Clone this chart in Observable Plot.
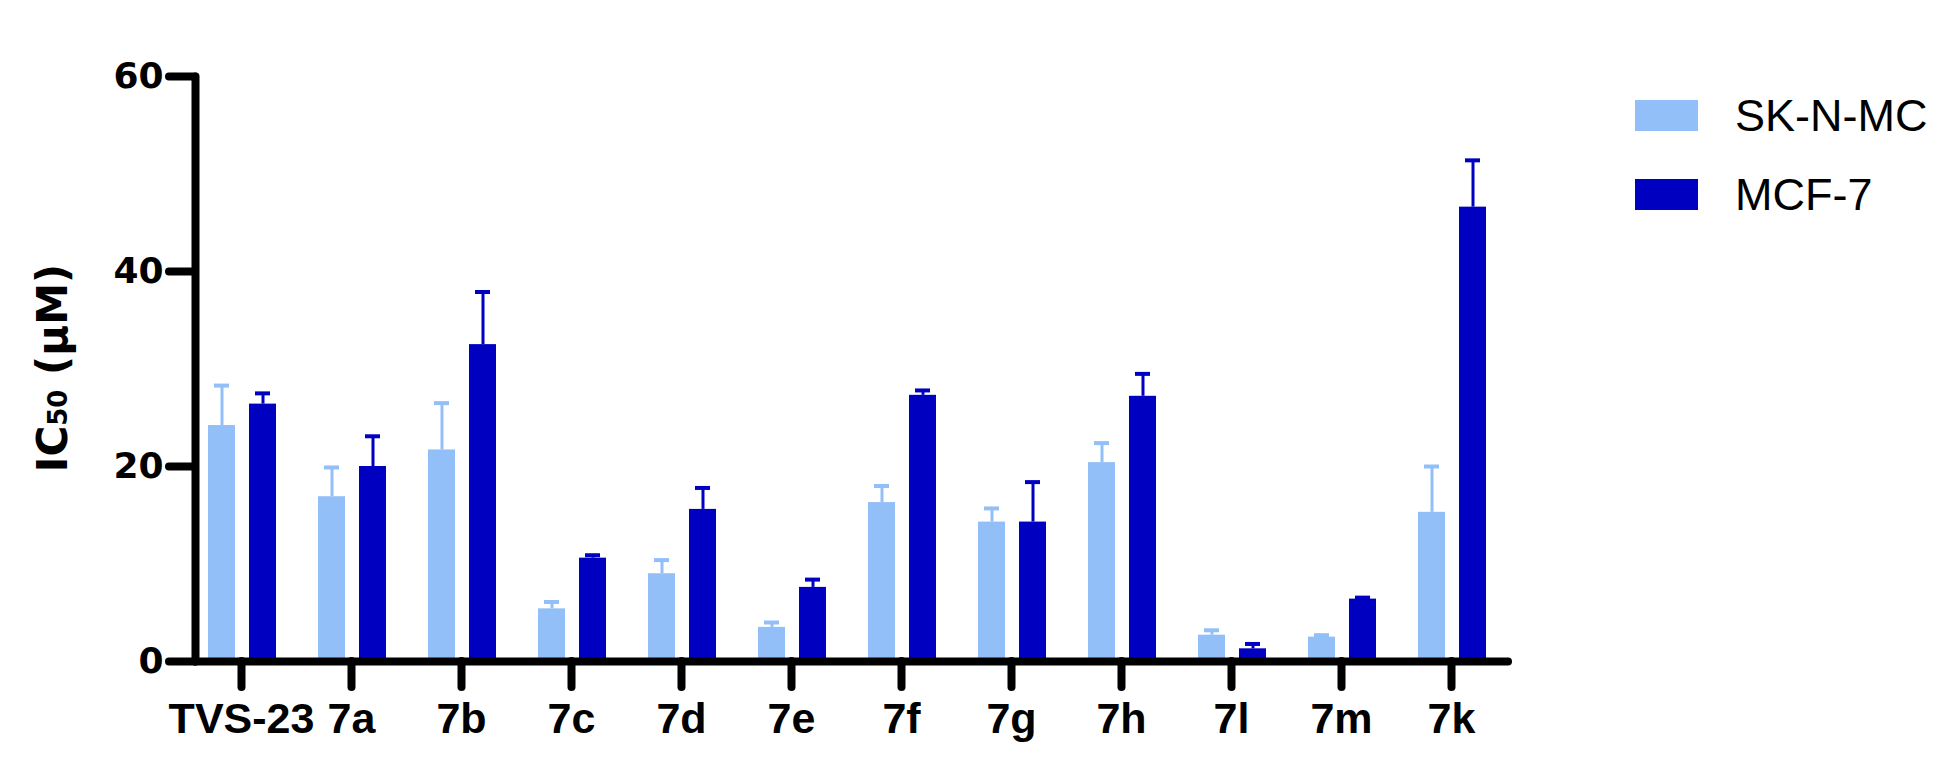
<!DOCTYPE html>
<html>
<head>
<meta charset="utf-8">
<script src="https://cdn.jsdelivr.net/npm/d3@7"></script>
<script src="https://cdn.jsdelivr.net/npm/@observablehq/plot@0.6"></script>
<style>
  body { margin: 0; background: #fff; }
  #wrap { position: relative; width: 1955px; height: 772px; background: #fff; }
  .legend { position: absolute; left: 1635px; top: 0; font-family: "Liberation Sans", Arial, sans-serif; font-size: 45px; color: #000; }
  .item { position: absolute; left: 0; display: flex; align-items: center; height: 31px; white-space: nowrap; }
  .sw { width: 63px; height: 31px; margin-right: 37px; flex: none; }
</style>
</head>
<body>
<div id="wrap"></div>
<script>
// ---- data ----
const compounds = ["TVS-23", "7a", "7b", "7c", "7d", "7e", "7f", "7g", "7h", "7l", "7m", "7k"];
const seriesNames = ["SK-N-MC", "MCF-7"];
const skMean = [24.2, 16.9, 21.7, 5.4, 9.0, 3.5, 16.3, 14.3, 20.4, 2.7, 2.5, 15.3];
const skErr  = [4.1, 3.0, 4.8, 0.7, 1.4, 0.5, 1.7, 1.4, 2.0, 0.5, 0.2, 4.7];
const mcfMean = [26.4, 20.0, 32.5, 10.6, 15.6, 7.6, 27.3, 14.3, 27.2, 1.3, 6.4, 46.6];
const mcfErr  = [1.1, 3.1, 5.4, 0.3, 2.2, 0.8, 0.5, 4.1, 2.3, 0.5, 0.15, 4.8];
const yTicks = [0, 20, 40, 60];
const colors = ["#92bff8", "#0000c0"];

const sk = compounds.map((c, i) => ({c, v: skMean[i], e: skErr[i]}));
const mcf = compounds.map((c, i) => ({c, v: mcfMean[i], e: mcfErr[i]}));

const svg = Plot.plot({
  width: 1955,
  height: 772,
  marginTop: 76,
  marginBottom: 111,
  marginLeft: 195,
  marginRight: 447,
  style: {background: "#fff", color: "#000"},
  x: {domain: compounds, range: [186, 1506], padding: 0},
  y: {domain: [0, 60]},
  marks: [
    Plot.barY(sk, {x: "c", y: "v", fill: colors[0], insetLeft: 22, insetRight: 61}),
    Plot.barY(mcf, {x: "c", y: "v", fill: colors[1], insetLeft: 63, insetRight: 20}),
    Plot.ruleX(sk, {x: "c", y1: "v", y2: d => d.v + d.e, stroke: colors[0], strokeWidth: 3, dx: -19.5}),
    Plot.ruleX(mcf, {x: "c", y1: "v", y2: d => d.v + d.e, stroke: colors[1], strokeWidth: 3, dx: 21.5}),
    Plot.tickY(sk, {x: "c", y: d => d.v + d.e, stroke: colors[0], strokeWidth: 4, insetLeft: 28, insetRight: 67}),
    Plot.tickY(mcf, {x: "c", y: d => d.v + d.e, stroke: colors[1], strokeWidth: 4, insetLeft: 69, insetRight: 26}),
    Plot.frame({anchor: "left", stroke: "#000", strokeWidth: 8, strokeLinecap: "round"}),
    Plot.ruleY([0], {stroke: "#000", strokeWidth: 8, strokeLinecap: "round"}),
    Plot.axisY({ticks: yTicks, tickSize: 26, tickPadding: 6, strokeWidth: 8, strokeLinecap: "round",
      fontSize: 36, fontWeight: "bold", fontFamily: "DejaVu Sans", fill: "#000", label: null}),
    Plot.axisX({tickSize: 26, tickPadding: 15, strokeWidth: 8, strokeLinecap: "round",
      fontSize: 43, fontWeight: "bold", fontFamily: "Liberation Sans", fill: "#000", label: null})
  ]
});

// y-axis title with subscript
const t = d3.select(svg).append("text")
  .attr("transform", "translate(67,368) rotate(-90)")
  .attr("text-anchor", "middle")
  .attr("font-family", "DejaVu Sans")
  .attr("font-weight", "bold")
  .attr("font-size", 42)
  .attr("fill", "#000");
t.append("tspan").text("IC");
t.append("tspan").attr("font-size", 26).text("50");
t.append("tspan").text(" (μM)");

const wrap = document.getElementById("wrap");
wrap.appendChild(svg);

// legend
const legend = document.createElement("div");
legend.className = "legend";
seriesNames.forEach((name, i) => {
  const item = document.createElement("div");
  item.className = "item";
  item.style.top = (100 + i * 79) + "px";
  const sw = document.createElement("div");
  sw.className = "sw";
  sw.style.background = colors[i];
  const label = document.createElement("span");
  label.textContent = name;
  item.appendChild(sw);
  item.appendChild(label);
  legend.appendChild(item);
});
wrap.appendChild(legend);
</script>
</body>
</html>
